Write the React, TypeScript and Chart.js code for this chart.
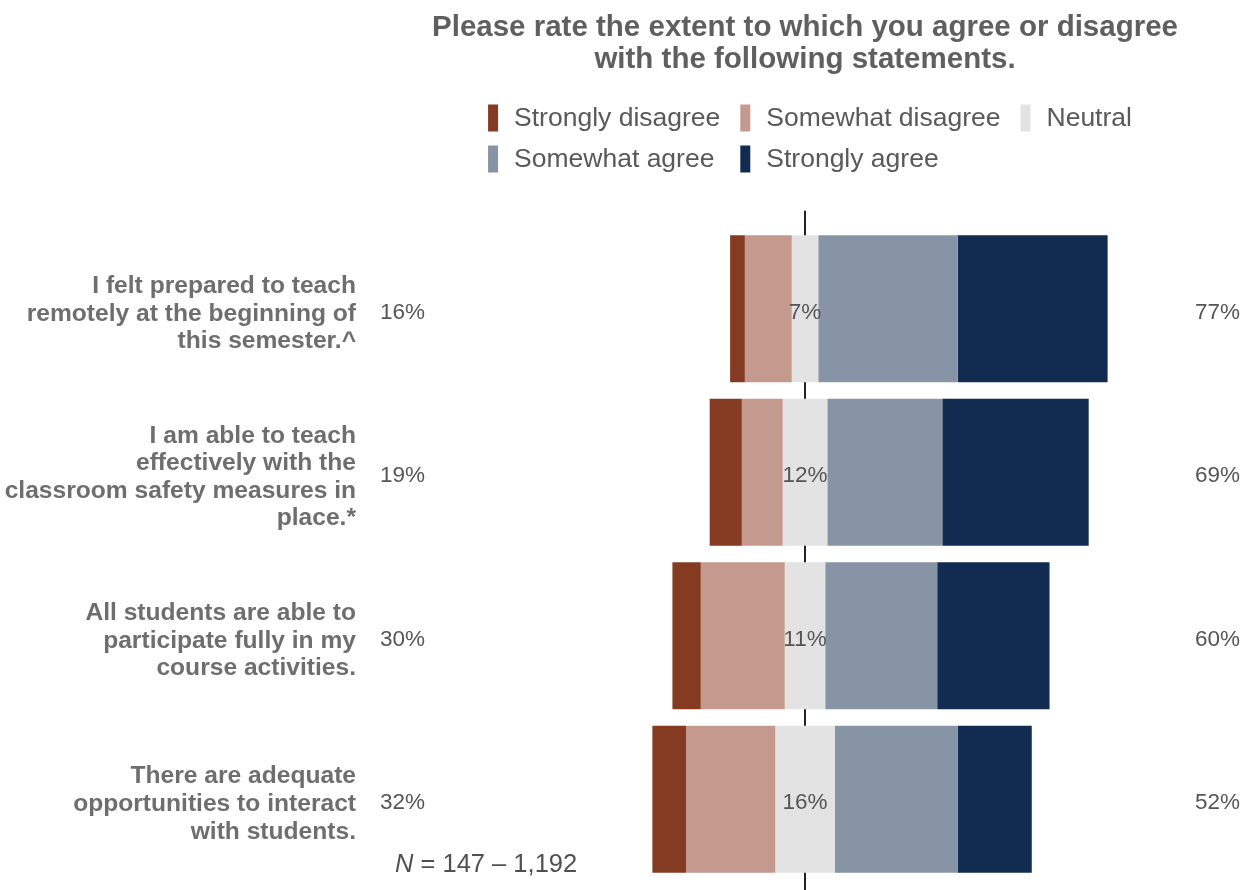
import React, { useEffect, useRef } from "react";
import { Chart, registerables } from "chart.js";

Chart.register(...registerables);

const FONT = '"Liberation Sans", Arial, Helvetica, sans-serif';

const titleLines = [
  "Please rate the extent to which you agree or disagree",
  "with the following statements.",
];

const categories: string[][] = [
  ["I felt prepared to teach", "remotely at the beginning of", "this semester.^"],
  ["I am able to teach", "effectively with the", "classroom safety measures in", "place.*"],
  ["All students are able to", "participate fully in my", "course activities."],
  ["There are adequate", "opportunities to interact", "with students."],
];

const seriesNames = [
  "Strongly disagree",
  "Somewhat disagree",
  "Neutral",
  "Somewhat agree",
  "Strongly agree",
];
const seriesColors = ["#843b22", "#c49a8e", "#e3e3e3", "#8794a6", "#122c51"];

// percentages per row
const strongDisagree = [3.9, 8.5, 7.5, 8.9];
const somewhatDisagree = [12.4, 10.8, 22.2, 23.6];
const neutral = [7.0, 11.8, 10.7, 15.7];
const somewhatAgree = [36.9, 30.4, 29.6, 32.5];
const strongAgree = [39.6, 38.7, 29.7, 19.6];

const leftPct = ["16%", "19%", "30%", "32%"];
const neutralPct = ["7%", "12%", "11%", "16%"];
const rightPct = ["77%", "69%", "60%", "52%"];

const nLabelItalic = "N";
const nLabelRest = " = 147 \u2013 1,192";

function buildSegments(): [number, number][][] {
  const sd: [number, number][] = [];
  const sod: [number, number][] = [];
  const ne: [number, number][] = [];
  const sa: [number, number][] = [];
  const sta: [number, number][] = [];
  for (let i = 0; i < categories.length; i++) {
    const h = neutral[i] / 2;
    const start = -(strongDisagree[i] + somewhatDisagree[i] + h);
    sd.push([start, start + strongDisagree[i]]);
    sod.push([start + strongDisagree[i], -h]);
    ne.push([-h, h]);
    sa.push([h, h + somewhatAgree[i]]);
    sta.push([h + somewhatAgree[i], h + somewhatAgree[i] + strongAgree[i]]);
  }
  return [sd, sod, ne, sa, sta];
}

const decorPlugin = {
  id: "decor",
  beforeDatasetsDraw(chart: any) {
    const { ctx, chartArea } = chart;
    const xs = chart.scales.x;
    const x0 = Math.round(xs.getPixelForValue(0));
    const band = (chartArea.bottom - chartArea.top) / categories.length;
    ctx.save();
    ctx.strokeStyle = "#222222";
    ctx.lineWidth = 2;
    ctx.beginPath();
    ctx.moveTo(x0, chartArea.top - 0.1 * band);
    ctx.lineTo(x0, chartArea.bottom + 0.1 * band);
    ctx.stroke();
    ctx.restore();
  },
  afterDatasetsDraw(chart: any) {
    const { ctx, chartArea } = chart;
    const xs = chart.scales.x;
    const ys = chart.scales.y;
    ctx.save();
    ctx.font = `22.5px ${FONT}`;
    ctx.fillStyle = "#555555";
    ctx.textBaseline = "middle";
    for (let i = 0; i < categories.length; i++) {
      const y = ys.getPixelForValue(i) + 4;
      ctx.textAlign = "left";
      ctx.fillText(leftPct[i], chartArea.left + 10, y);
      ctx.textAlign = "center";
      ctx.fillText(neutralPct[i], xs.getPixelForValue(0), y);
      ctx.textAlign = "right";
      ctx.fillText(rightPct[i], chartArea.right, y);
    }
    ctx.restore();
  },
  afterDraw(chart: any) {
    const { ctx, chartArea } = chart;
    const cx = (chartArea.left + chartArea.right) / 2;
    ctx.save();
    // Title
    ctx.font = `bold 29.5px ${FONT}`;
    ctx.fillStyle = "#5f5f5f";
    ctx.textAlign = "center";
    ctx.textBaseline = "alphabetic";
    ctx.fillText(titleLines[0], cx, 36);
    ctx.fillText(titleLines[1], cx, 68);

    // Legend (2 rows x 3 columns grid)
    ctx.font = `26.5px ${FONT}`;
    const ncol = 3;
    const keyW = 10;
    const keyH = 27;
    const textOff = 26;
    const colGap = 20;
    const colW: number[] = [0, 0, 0];
    seriesNames.forEach((n, k) => {
      const c = k % ncol;
      colW[c] = Math.max(colW[c], textOff + ctx.measureText(n).width);
    });
    const total = colW.reduce((a, b) => a + b, 0) + colGap * (ncol - 1);
    const startX = cx + 5 - total / 2;
    const rowY = [118, 159];
    seriesNames.forEach((n, k) => {
      const c = k % ncol;
      const r = Math.floor(k / ncol);
      let x = startX;
      for (let j = 0; j < c; j++) x += colW[j] + colGap;
      const y = rowY[r];
      ctx.fillStyle = seriesColors[k];
      ctx.fillRect(x, y - keyH / 2, keyW, keyH);
      ctx.fillStyle = "#595959";
      ctx.textAlign = "left";
      ctx.textBaseline = "middle";
      ctx.fillText(n, x + textOff, y + 1);
    });

    // N label
    const nx = chartArea.left + 25;
    const ny = 865;
    ctx.fillStyle = "#505050";
    ctx.textBaseline = "middle";
    ctx.textAlign = "left";
    ctx.font = `italic 25.5px ${FONT}`;
    ctx.fillText(nLabelItalic, nx, ny);
    const w = ctx.measureText(nLabelItalic).width;
    ctx.font = `25.5px ${FONT}`;
    ctx.fillText(nLabelRest, nx + w, ny);
    ctx.restore();
  },
};

export default function App() {
  const ref = useRef<HTMLCanvasElement | null>(null);
  useEffect(() => {
    if (!ref.current) return;
    const segs = buildSegments();
    const chart = new Chart(ref.current, {
      type: "bar",
      data: {
        labels: categories as any,
        datasets: seriesNames.map((name, k) => ({
          label: name,
          data: segs[k] as any,
          backgroundColor: seriesColors[k],
          borderWidth: 0,
          grouped: false,
          barPercentage: 0.9,
          categoryPercentage: 1,
        })),
      },
      options: {
        indexAxis: "y",
        responsive: false,
        animation: false,
        events: [],
        layout: { padding: { top: 227, bottom: 9, left: 0, right: 6 } },
        plugins: {
          legend: { display: false },
          title: { display: false },
          tooltip: { enabled: false },
        },
        scales: {
          x: { type: "linear", min: -115, max: 115, display: false },
          y: {
            type: "category",
            grid: { display: false, drawTicks: false },
            border: { display: false },
            ticks: {
              font: { family: FONT, size: 24.6, weight: "bold", lineHeight: 1.12 },
              color: "#6e6e6e",
              padding: 14,
              labelOffset: 5,
            },
            afterFit(s: any) {
              s.width = 370;
              s.paddingTop = 0;
              s.paddingBottom = 0;
            },
          },
        },
      } as any,
      plugins: [decorPlugin],
    });
    return () => chart.destroy();
  }, []);
  return (
    <div
      style={{
        position: "fixed",
        left: 0,
        top: 0,
        width: 1246,
        height: 890,
        background: "#ffffff",
        overflow: "hidden",
      }}
    >
      <canvas ref={ref} width={1246} height={890} style={{ display: "block" }} />
    </div>
  );
}
